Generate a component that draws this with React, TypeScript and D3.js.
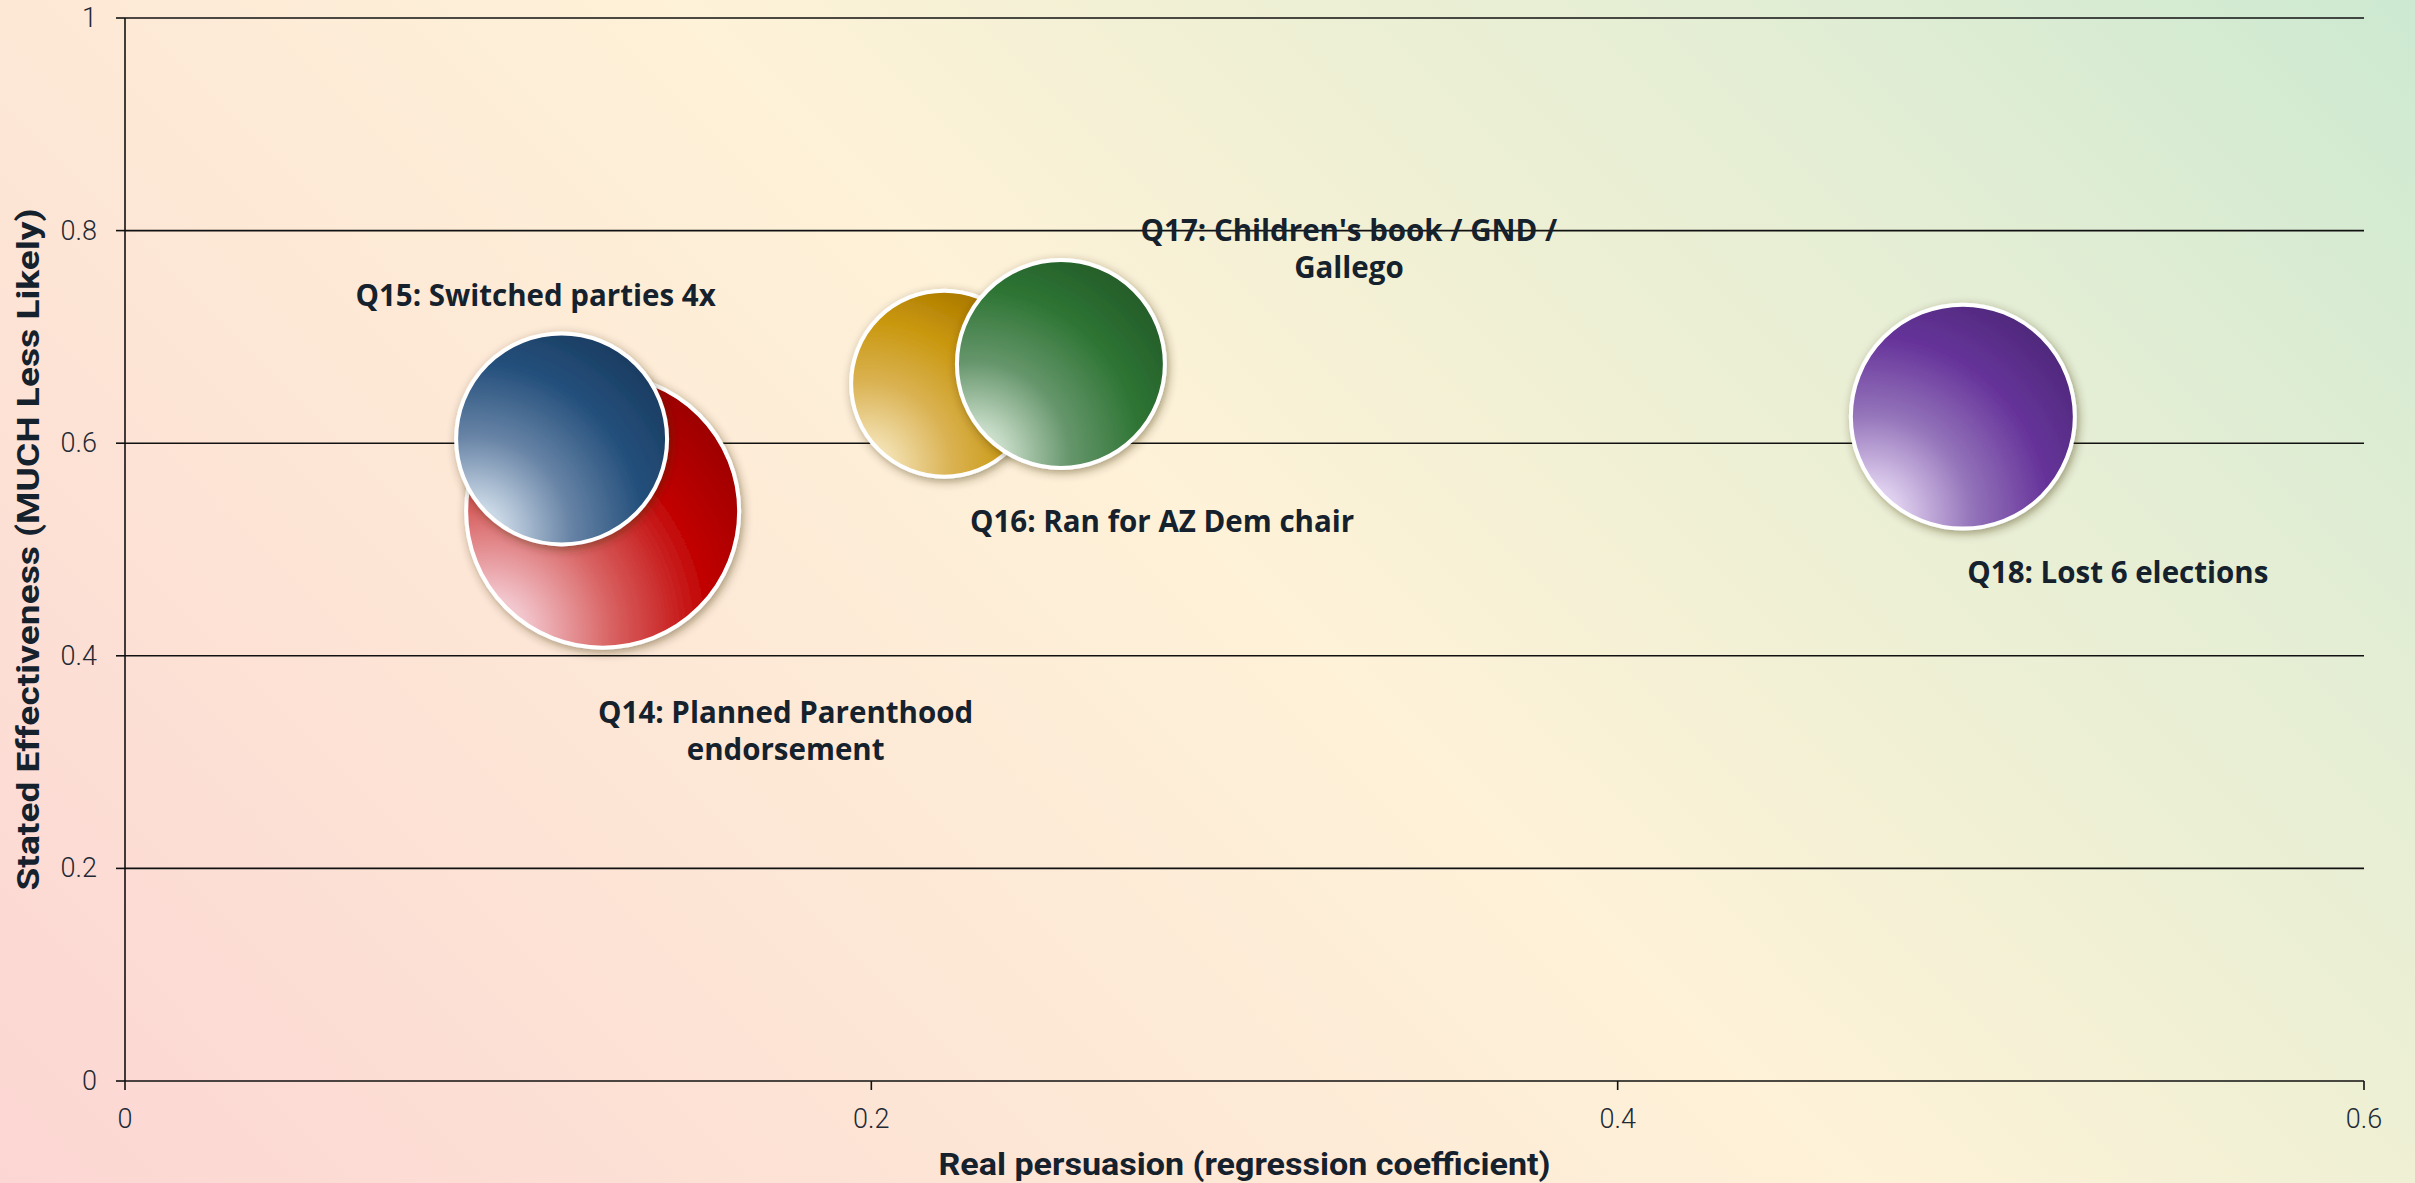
import React from "react";
import * as d3 from "d3";

const labels = [
  ["Q14: Planned Parenthood", "endorsement"],
  ["Q15: Switched parties 4x"],
  ["Q16: Ran for AZ Dem chair"],
  ["Q17: Children's book / GND /", "Gallego"],
  ["Q18: Lost 6 elections"],
];
const realPersuasion = [0.128, 0.117, 0.2195, 0.2508, 0.4925];
const statedEffect = [0.536, 0.604, 0.656, 0.6745, 0.625];
const bubbleSize = [100, 59.7, 46.4, 58.0, 67.3];
const xTicks = [0, 0.2, 0.4, 0.6];
const yTicks = [0, 0.2, 0.4, 0.6, 0.8, 1];

// styles
const palettes = [
  { light: "#f2c6cd", mid: "#d86060", base: "#c20404", dark: "#980000" },
  { light: "#cad8e6", mid: "#6884a6", base: "#24507c", dark: "#1a3a5e" },
  { light: "#f2e0b0", mid: "#dab252", base: "#c8960a", dark: "#a47200" },
  { light: "#cadeca", mid: "#66966c", base: "#2e7534", dark: "#235a28" },
  { light: "#dfcfee", mid: "#9474ba", base: "#66339a", dark: "#4c2878" },
];
const labelOffsets = [
  [183, 200],
  [-26, -144],
  [218, 137],
  [288, -135],
  [155, 155],
];

const W = 2415;
const H = 1183;
const M = { left: 125, right: 51, top: 18, bottom: 102 };

export default function App() {
  const x = d3.scaleLinear().domain([0, 0.6]).range([M.left, W - M.right]);
  const y = d3.scaleLinear().domain([0, 1]).range([H - M.bottom, M.top]);
  const r = d3.scaleSqrt().domain([0, 100]).range([0, 136.5]);
  const textColor = "#15212c";
  const labelFont = "'Open Sans', 'Noto Sans', sans-serif";
  const tickFont = "Roboto, 'Noto Sans', sans-serif";

  return (
    <div style={{ position: "fixed", left: 0, top: 0, width: W, height: H, overflow: "hidden" }}>
      <svg width={W} height={H} style={{ display: "block" }}>
        <defs>
          <linearGradient id="bg" gradientUnits="userSpaceOnUse" x1={0} y1={H} x2={1799} y2={-616}>
            <stop offset="0" stopColor="#fcd6d3" />
            <stop offset="0.33" stopColor="#fde8d6" />
            <stop offset="0.52" stopColor="#fef2d8" />
            <stop offset="0.67" stopColor="#eff0d4" />
            <stop offset="0.8" stopColor="#e4eed4" />
            <stop offset="1" stopColor="#cde9d1" />
          </linearGradient>
          {palettes.map((p, i) => (
            <radialGradient key={i} id={`g${i}`} cx="0.08" cy="0.95" r="1.15" fx="0.08" fy="0.95">
              <stop offset="0.12" stopColor={p.light} />
              <stop offset="0.4" stopColor={p.mid} />
              <stop offset="0.7" stopColor={p.base} />
              <stop offset="1" stopColor={p.dark} />
            </radialGradient>
          ))}
          <filter id="shadow" x="-30%" y="-30%" width="160%" height="160%">
            <feDropShadow dx="2" dy="3" stdDeviation="5" floodColor="#3a2a10" floodOpacity="0.45" />
          </filter>
        </defs>
        <rect x={0} y={0} width={W} height={H} fill="url(#bg)" />

        {/* gridlines */}
        {yTicks.map((t) => (
          <g key={t}>
            <line x1={M.left} x2={W - M.right} y1={y(t)} y2={y(t)} stroke="#111" strokeWidth={1.6} />
            <line x1={M.left - 9} x2={M.left} y1={y(t)} y2={y(t)} stroke="#111" strokeWidth={1.6} />
            <text
              x={M.left - 28}
              y={y(t)}
              textAnchor="end"
              dominantBaseline="central"
              fontFamily={tickFont}
              fontWeight={300}
              fontSize={27}
              fill="#1f2a35"
            >
              {String(t)}
            </text>
          </g>
        ))}
        {/* y axis */}
        <line x1={M.left} x2={M.left} y1={M.top} y2={H - M.bottom} stroke="#111" strokeWidth={1.6} />
        {/* x ticks */}
        {xTicks.map((t) => (
          <g key={t}>
            <line x1={x(t)} x2={x(t)} y1={H - M.bottom} y2={H - M.bottom + 9} stroke="#111" strokeWidth={1.6} />
            <text
              x={x(t)}
              y={H - M.bottom + 38}
              textAnchor="middle"
              dominantBaseline="central"
              fontFamily={tickFont}
              fontWeight={300}
              fontSize={27}
              fill="#1f2a35"
            >
              {String(t)}
            </text>
          </g>
        ))}

        {/* bubbles */}
        {realPersuasion.map((v, i) => (
          <circle
            key={i}
            cx={x(v)}
            cy={y(statedEffect[i])}
            r={r(bubbleSize[i])}
            fill={`url(#g${i})`}
            stroke="#ffffff"
            strokeWidth={4}
            filter="url(#shadow)"
          />
        ))}

        {/* labels */}
        {labels.map((lines, i) => {
          const cx = x(realPersuasion[i]) + labelOffsets[i][0];
          const cy = y(statedEffect[i]) + labelOffsets[i][1];
          return (
            <text
              key={i}
              textAnchor="middle"
              fontFamily={labelFont}
              fontWeight={700}
              fontSize={29.5}
              fill={textColor}
            >
              {lines.map((l, j) => (
                <tspan key={j} x={cx} y={cy + j * 37.5} dominantBaseline="central">
                  {l}
                </tspan>
              ))}
            </text>
          );
        })}

        {/* axis titles */}
        <text
          x={(M.left + W - M.right) / 2}
          y={1164}
          textAnchor="middle"
          dominantBaseline="central"
          fontFamily="Roboto, sans-serif"
          fontWeight={700}
          fontSize={31}
          fill={textColor}
          textLength={612}
          lengthAdjust="spacingAndGlyphs"
        >
          Real persuasion (regression coefficient)
        </text>
        <text
          transform={`translate(28, ${(M.top + H - M.bottom) / 2}) rotate(-90)`}
          textAnchor="middle"
          dominantBaseline="central"
          fontFamily="Roboto, sans-serif"
          fontWeight={700}
          fontSize={31}
          fill={textColor}
          textLength={682}
          lengthAdjust="spacingAndGlyphs"
        >
          Stated Effectiveness (MUCH Less Likely)
        </text>
      </svg>
    </div>
  );
}
